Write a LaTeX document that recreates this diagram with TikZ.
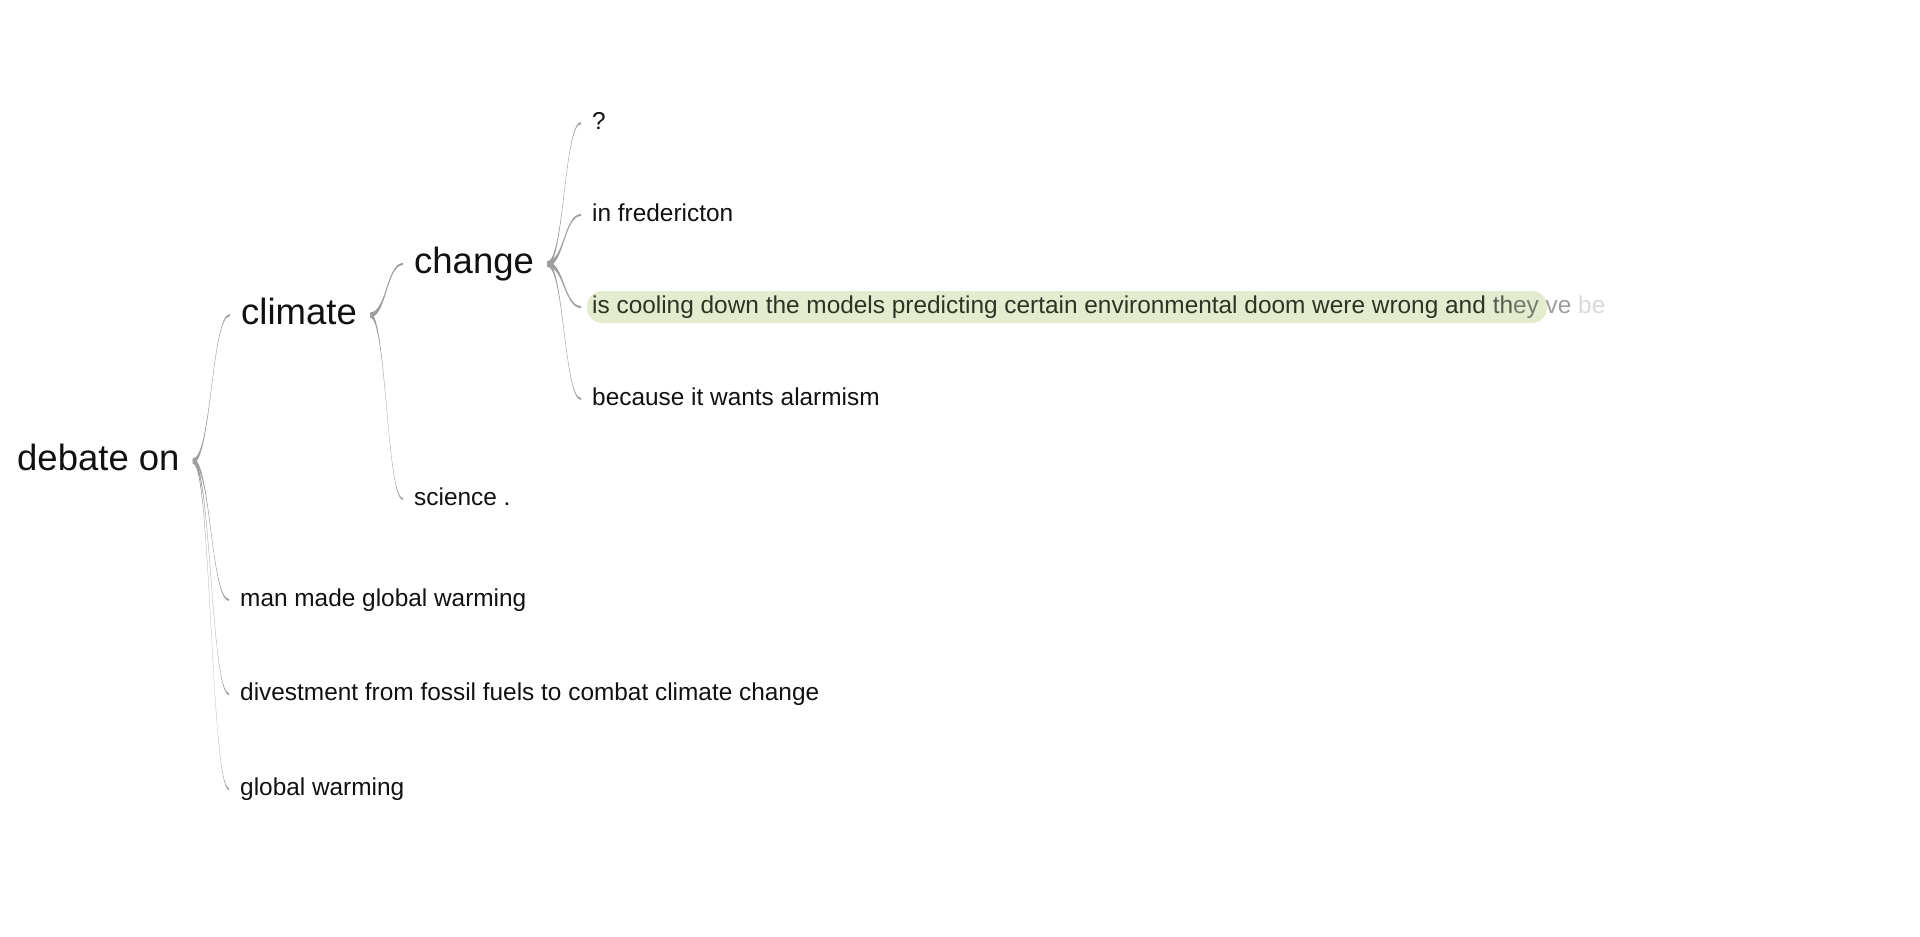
\documentclass[tikz,border=0pt]{standalone}
\usepackage{fontspec}
\setmainfont{Liberation Sans}
\usetikzlibrary{calc}
\definecolor{linkgray}{RGB}{158,158,158}
\definecolor{hlgreen}{RGB}{227,236,206}
\definecolor{hltext}{RGB}{45,52,35}
\definecolor{ink}{RGB}{17,17,17}
\tikzset{
  bigword/.style={font=\fontsize{36.5}{42}\selectfont,text=ink,anchor=west,inner sep=0pt,text height=18pt,text depth=0pt},
  leafword/.style={font=\fontsize{24.4}{28}\selectfont,text=ink,anchor=west,inner sep=0pt,text height=12pt,text depth=0pt}
}
\newcommand{\treelink}[2]{%
  \fill[linkgray] let \p1=($(#1.east)+(13,0)$), \p2=($(#2.west)+(-11,0)$), \n1={(\x1+\x2)/2} in
    (\x1,\y1+2.5) .. controls (\n1,\y1+2.5) and (\n1,\y2+1) .. (\x2,\y2+1)
    -- (\x2,\y2-1) .. controls (\n1,\y2-1) and (\n1,\y1-2.5) .. (\x1,\y1-2.5) -- cycle;}

\begin{document}
\begin{tikzpicture}[x=1pt,y=-1pt]
    \useasboundingbox (0,0) rectangle (1920,937);
    \fill[hlgreen,rounded corners=15pt] (587,291) rectangle (1547,323);
    \node[bigword] (debate) at (17,461) {debate on};
    \node[bigword] (climate) at (241,315) {climate};
    \node[bigword] (change) at (414,264) {change};
    \node[leafword] (science) at (414,499) {science .};
    \node[leafword] (qmark) at (592,123) {?};
    \node[leafword] (fred) at (592,215) {in fredericton};
    \node[leafword,text=hltext] (cool) at (592,307) {is cooling down the models predicting certain environmental doom were wrong and \textcolor{hltext!80!white}{th}\textcolor{hltext!65!white}{ey} \textcolor{black!38}{ve} \textcolor{black!15}{be}};
    \node[leafword] (because) at (592,399) {because it wants alarmism};
    \node[leafword] (manmade) at (240,600) {man made global warming};
    \node[leafword] (divest) at (240,694) {divestment from fossil fuels to combat climate change};
    \node[leafword] (globalw) at (240,789) {global warming};
    \treelink{debate}{climate}
    \treelink{debate}{manmade}
    \treelink{debate}{divest}
    \treelink{debate}{globalw}
    \treelink{climate}{change}
    \treelink{climate}{science}
    \treelink{change}{qmark}
    \treelink{change}{fred}
    \treelink{change}{cool}
    \treelink{change}{because}
\end{tikzpicture}
\end{document}
